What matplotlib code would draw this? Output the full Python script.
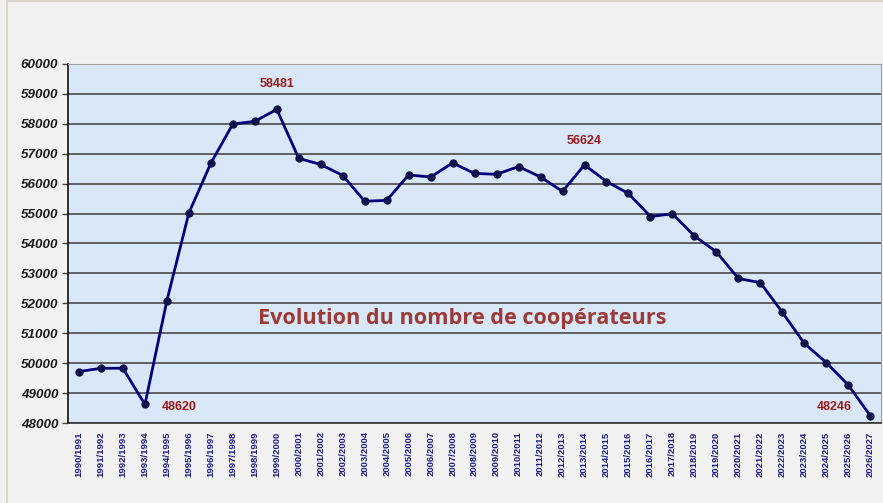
import matplotlib.pyplot as plt
from matplotlib.patches import Rectangle

# Saisons (campagnes)
seasons = [f"{y}/{y + 1}" for y in range(1990, 2027)]

# Nombre de coopérateurs
cooperateurs = [
    49720, 49830, 49830, 48620, 52090, 55020, 56680, 57990, 58080, 58481,
    56840, 56640, 56270, 55410, 55440, 56290, 56220, 56690, 56340, 56310,
    56570, 56220, 55740, 56624, 56070, 55670, 54900, 54990, 54250, 53720,
    52830, 52690, 51700, 50660, 50020, 49270, 48246,
]

# Valeurs annotées : (index, texte, décalage x, décalage y en points)
annotations = [
    (3, "48620", 25, -2),
    (9, "58481", 0, 18),
    (23, "56624", 0, 17),
    (36, "48246", -26, 6),
]

fig = plt.figure(figsize=(8.83, 5.03), dpi=100, facecolor="#f2f2f2")
fig.patches.append(Rectangle((0.008, -0.01), 1.0, 1.008, transform=fig.transFigure,
                             fill=False, edgecolor="#d4d0c8", linewidth=1.2))

ax = fig.add_axes([0.077, 0.159, 0.921, 0.714])
ax.set_facecolor("#d9e8f8")

x = list(range(len(seasons)))
ax.plot(x, cooperateurs, color="#00007f", linewidth=2, marker="o",
        markersize=5, markerfacecolor="#10104a", markeredgecolor="#10104a", zorder=3)

for i, txt, dx, dy in annotations:
    ax.annotate(txt, (i, cooperateurs[i]), xytext=(dx, dy), textcoords="offset points",
                ha="center", va="center", color="#9b1b1b", fontsize=9,
                fontweight="bold", family="Liberation Sans")

ax.text(0.485, 0.29, "Evolution du nombre de coopérateurs", transform=ax.transAxes,
        ha="center", va="center", color="#9e3a36", fontsize=15.6,
        fontweight="bold", family="Open Sans")

ax.set_xlim(-0.5, len(seasons) - 0.5)
ax.set_ylim(48000, 60000)
ax.set_yticks(range(48000, 60001, 1000))
ax.set_yticklabels([str(v) for v in range(48000, 60001, 1000)],
                   fontsize=9.6, fontweight="bold", fontstyle="italic",
                   family="Liberation Sans", color="#1a1a1a")
ax.set_xticks(x)
ax.set_xticklabels(seasons, rotation=90, fontsize=6.8, fontweight="bold",
                   family="Liberation Sans", color="#1c1c8c")
ax.tick_params(axis="x", length=0, pad=6)
ax.tick_params(axis="y", length=4, width=1, color="#444444", pad=3)

ax.yaxis.grid(True, color="#555555", linewidth=1.3)
ax.set_axisbelow(True)
ax.spines["left"].set_color("#111111")
ax.spines["left"].set_linewidth(1.2)
ax.spines["bottom"].set_color("#333333")
ax.spines["bottom"].set_linewidth(1.2)
ax.spines["top"].set_color("#a0a0a0")
ax.spines["right"].set_color("#a0a0a0")

fig.savefig("out.png", dpi=100, facecolor=fig.get_facecolor())
